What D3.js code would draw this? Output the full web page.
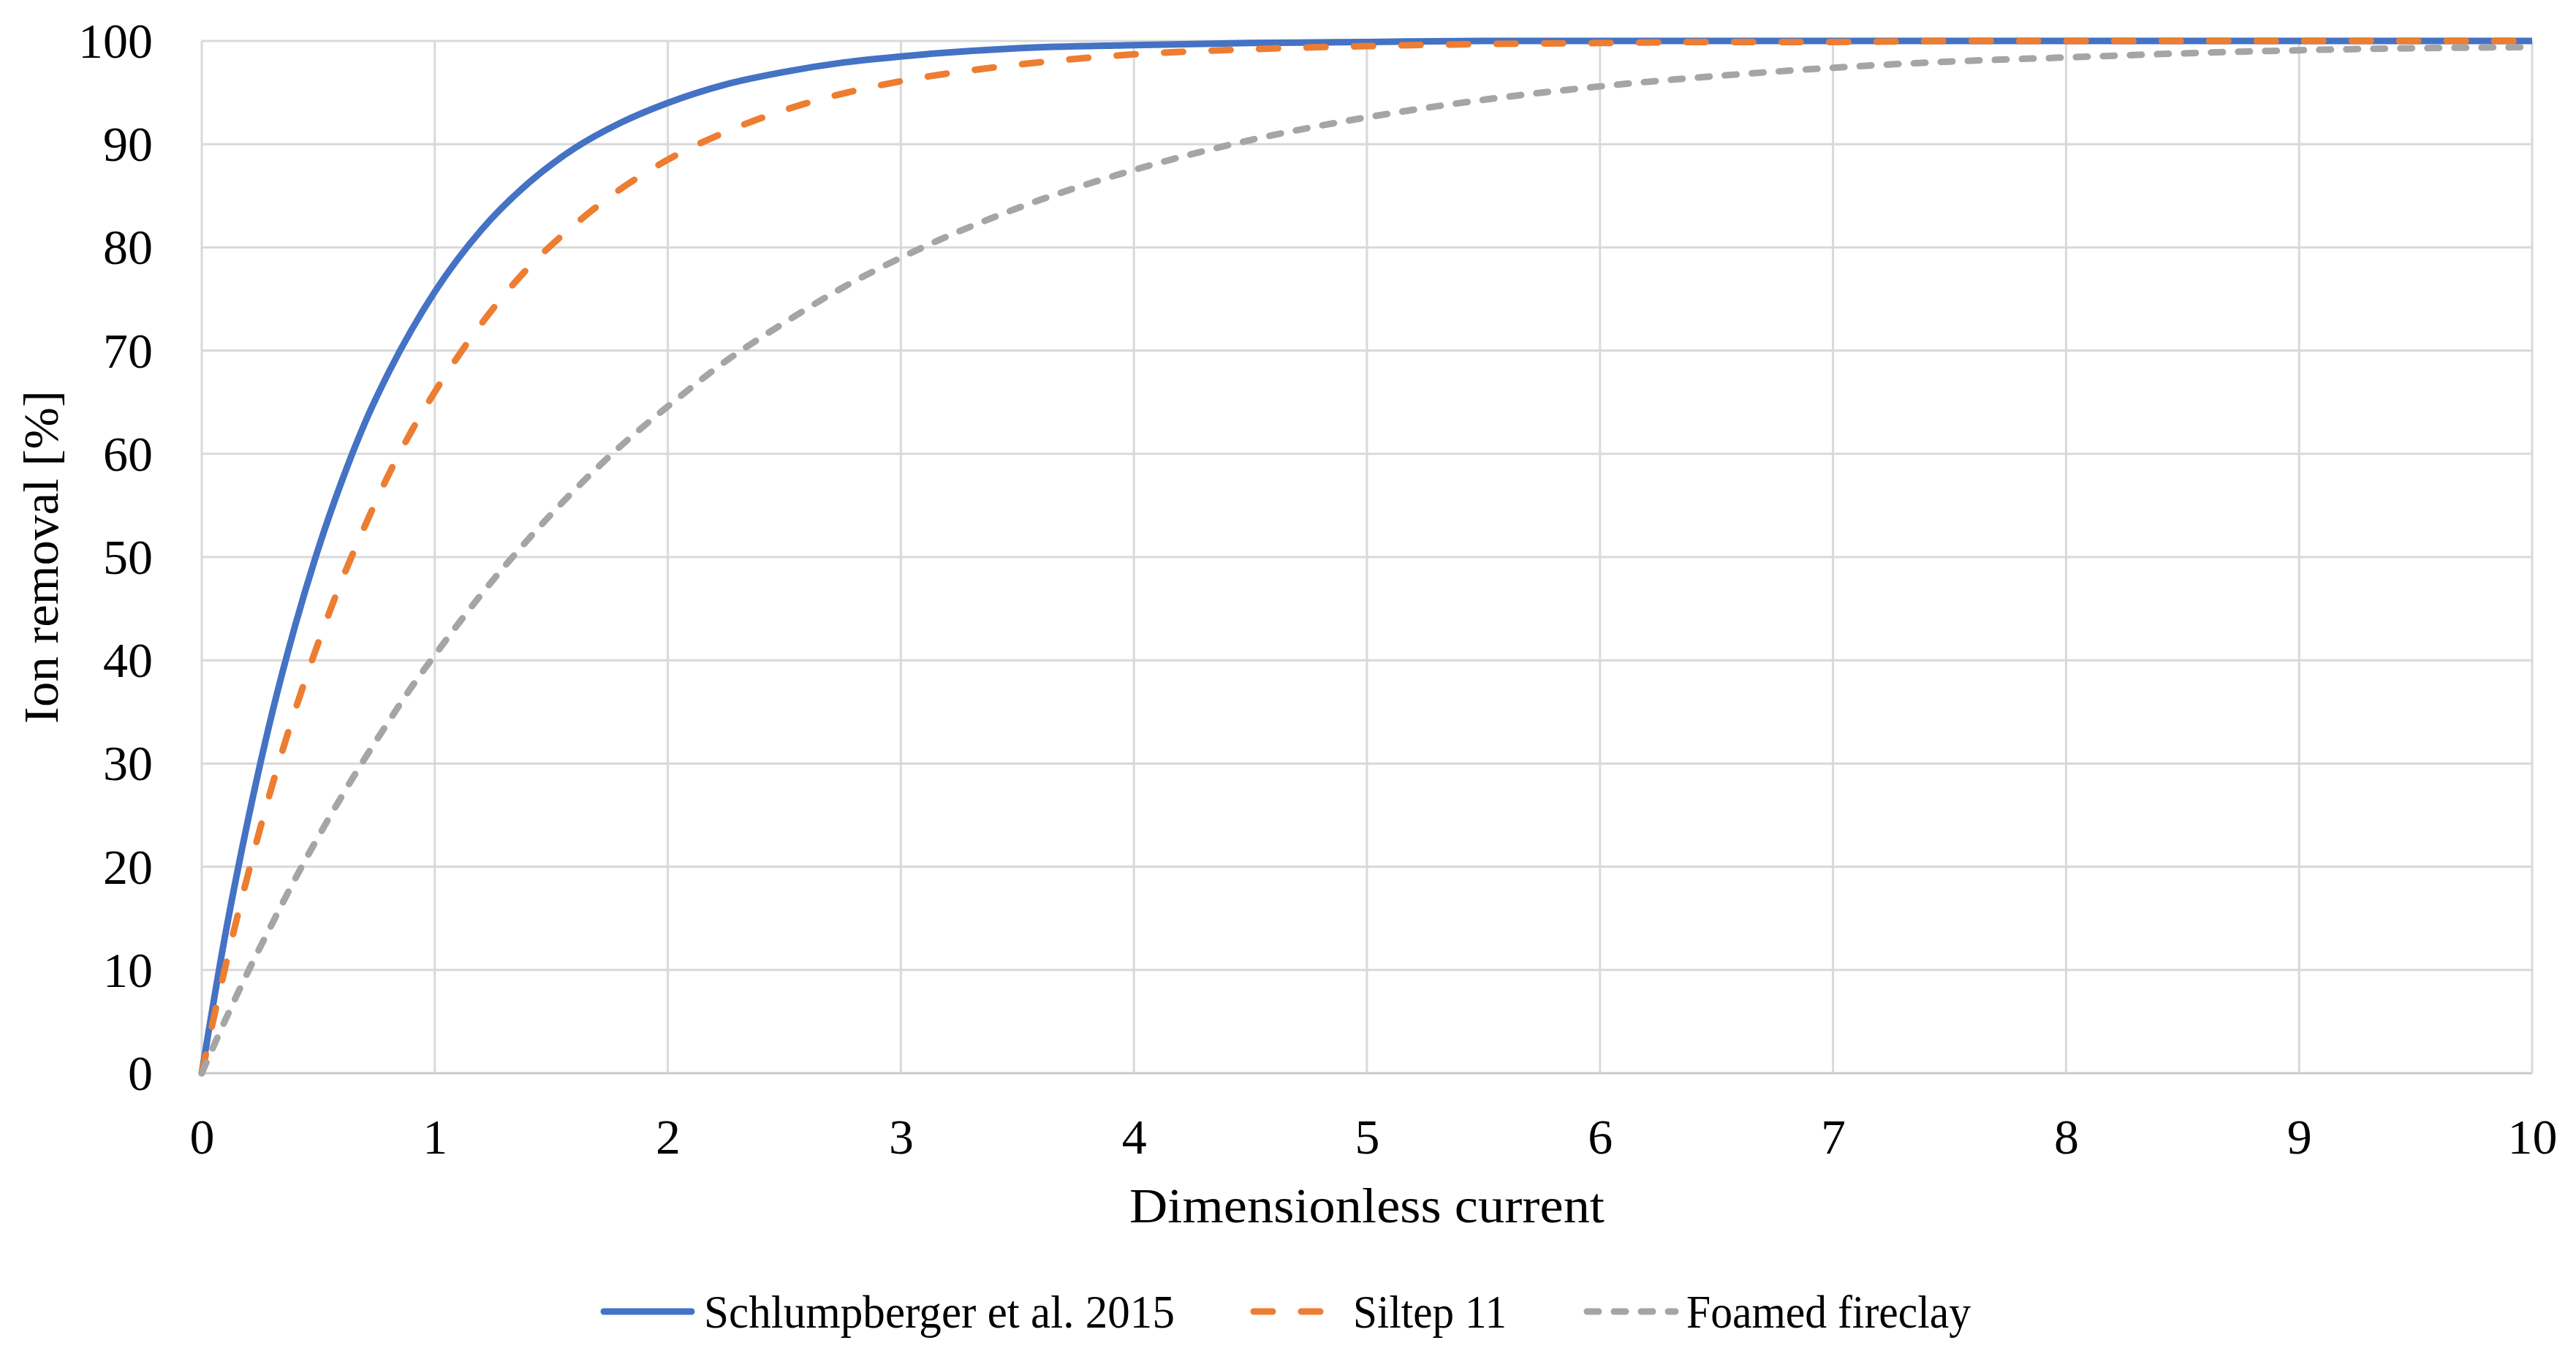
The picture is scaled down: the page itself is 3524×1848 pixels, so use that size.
<!DOCTYPE html>
<html>
<head>
<meta charset="utf-8">
<script src="https://cdn.jsdelivr.net/npm/d3@7"></script>
<style>
  html, body { margin: 0; padding: 0; background: #ffffff; }
  svg { display: block; }
  text { font-family: "Liberation Serif", "DejaVu Serif", serif; fill: #000; }
</style>
</head>
<body>
<svg id="chart" width="3524" height="1848"></svg>
<script>
// ---- Data ----
const current = [0, 0.1, 0.2, 0.3, 0.4, 0.5, 0.6, 0.7, 0.8, 0.9, 1.0, 1.2, 1.4, 1.6, 1.8, 2.0,
                 2.25, 2.5, 2.75, 3.0, 3.5, 4.0, 4.5, 5.0, 5.5, 6.0, 6.5, 7.0, 7.5, 8.0, 8.5, 9.0, 9.5, 10.0];
const schlumpberger = [0, 13.3, 24.7, 34.7, 43.3, 50.8, 57.3, 63.0, 67.8, 72.0, 75.7, 81.7, 86.2, 89.6, 92.1, 94.0,
                       95.8, 97.0, 97.9, 98.5, 99.3, 99.6, 99.8, 99.9, 100, 100, 100, 100, 100, 100, 100, 100, 100, 100];
const siltep11 = [0, 10.2, 19.4, 27.7, 35.1, 41.7, 47.7, 53.0, 57.9, 62.2, 66.0, 72.6, 78.0, 82.2, 85.7, 88.5,
                  91.2, 93.3, 94.9, 96.1, 97.7, 98.7, 99.2, 99.5, 99.7, 99.8, 99.9, 99.9, 100, 100, 100, 100, 100, 100];
const foamedFireclay = [0, 5.1, 9.9, 14.4, 18.8, 22.9, 26.8, 30.5, 34.0, 37.4, 40.5, 46.4, 51.7, 56.5, 60.8, 64.6,
                        69.0, 72.7, 76.1, 79.0, 83.8, 87.5, 90.4, 92.6, 94.3, 95.6, 96.6, 97.4, 98.0, 98.4, 98.8, 99.1, 99.3, 99.4];
const seriesNames = ["Schlumpberger et al. 2015", "Siltep 11", "Foamed fireclay"];
const xTicks = [0, 1, 2, 3, 4, 5, 6, 7, 8, 9, 10];
const yTicks = [0, 10, 20, 30, 40, 50, 60, 70, 80, 90, 100];
const xTitle = "Dimensionless current";
const yTitle = "Ion removal [%]";

// ---- Layout ----
const svg = d3.select("#chart");
const plot = { left: 276, right: 3464, top: 56, bottom: 1468 };
const x = d3.scaleLinear().domain([0, 10]).range([plot.left, plot.right]);
const y = d3.scaleLinear().domain([0, 100]).range([plot.bottom, plot.top]);

const gridColor = "#d9d9d9";

// Gridlines
const grid = svg.append("g");
grid.selectAll("line.h").data(yTicks).enter().append("line")
  .attr("x1", plot.left).attr("x2", plot.right)
  .attr("y1", d => y(d)).attr("y2", d => y(d))
  .attr("stroke", d => d === 0 ? "#c8c8c8" : gridColor).attr("stroke-width", 3);
grid.selectAll("line.v").data(xTicks).enter().append("line")
  .attr("y1", plot.top).attr("y2", plot.bottom)
  .attr("x1", d => x(d)).attr("x2", d => x(d))
  .attr("stroke", gridColor).attr("stroke-width", 3);

// Axes (labels via d3 axes, domain & ticks hidden)
const fontSize = 68;
const xAxis = svg.append("g").attr("transform", `translate(0,${plot.bottom})`)
  .call(d3.axisBottom(x).tickValues(xTicks).tickSize(0).tickPadding(0).tickFormat(d3.format("d")));
xAxis.select(".domain").remove();
xAxis.selectAll("text").attr("font-size", fontSize).attr("font-family", "Liberation Serif")
  .attr("fill", "#000").attr("dy", null).attr("y", 110);

const yAxis = svg.append("g").attr("transform", `translate(${plot.left},0)`)
  .call(d3.axisLeft(y).tickValues(yTicks).tickSize(0).tickPadding(0).tickFormat(d3.format("d")));
yAxis.select(".domain").remove();
yAxis.selectAll("text").attr("font-size", fontSize).attr("font-family", "Liberation Serif")
  .attr("fill", "#000").attr("dy", "0.33em").attr("x", -67);

// Axis titles
svg.append("text").attr("x", (plot.left + plot.right) / 2).attr("y", 1672)
  .attr("text-anchor", "middle").attr("font-size", fontSize)
  .attr("textLength", 650).attr("lengthAdjust", "spacingAndGlyphs").text(xTitle);
svg.append("text").attr("transform", `translate(79,${(plot.top + plot.bottom) / 2}) rotate(-90)`)
  .attr("text-anchor", "middle").attr("font-size", fontSize)
  .attr("textLength", 456).attr("lengthAdjust", "spacingAndGlyphs").text(yTitle);

// Series
const series = [
  { name: seriesNames[0], values: schlumpberger, color: "#4472c4", dash: null },
  { name: seriesNames[1], values: siltep11, color: "#ed7d31", dash: "26 39" },
  { name: seriesNames[2], values: foamedFireclay, color: "#a5a5a5", dash: "16 21" }
];
const line = d3.line().x(d => x(d[0])).y(d => y(d[1])).curve(d3.curveMonotoneX);

series.forEach(s => {
  svg.append("path")
    .datum(current.map((c, i) => [c, s.values[i]]))
    .attr("d", line)
    .attr("fill", "none")
    .attr("stroke", s.color)
    .attr("stroke-width", 9)
    .attr("stroke-linecap", s.dash ? "round" : "butt")
    .attr("stroke-linejoin", "round")
    .attr("stroke-dasharray", s.dash);
});

// Legend
const legendY = 1794;
const legendItems = [
  { x1: 826, x2: 946, tx: 963, tw: 644 },
  { x1: 1715, x2: 1808, tx: 1851, tw: 210 },
  { x1: 2171, x2: 2292, tx: 2307, tw: 389 }
];
const legend = svg.append("g");
series.forEach((s, i) => {
  const it = legendItems[i];
  legend.append("line")
    .attr("x1", it.x1).attr("x2", it.x2).attr("y1", legendY).attr("y2", legendY)
    .attr("stroke", s.color).attr("stroke-width", 9)
    .attr("stroke-linecap", "round")
    .attr("stroke-dasharray", s.dash);
  legend.append("text").attr("x", it.tx).attr("y", 1816)
    .attr("font-size", 64).attr("textLength", it.tw).attr("lengthAdjust", "spacingAndGlyphs")
    .text(s.name);
});
</script>
</body>
</html>
